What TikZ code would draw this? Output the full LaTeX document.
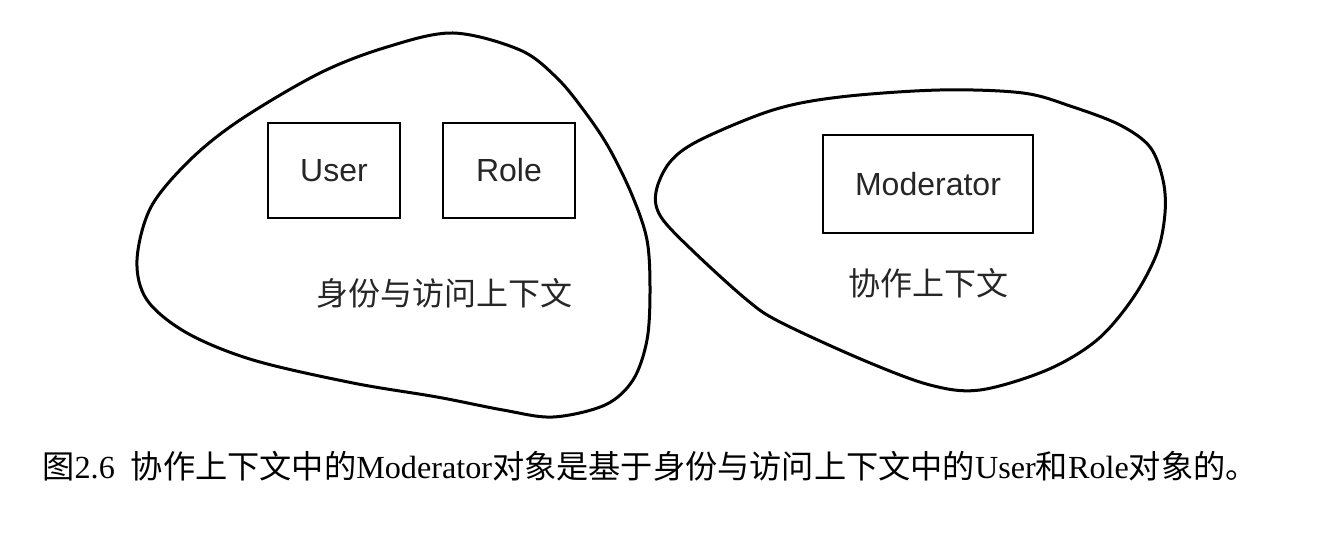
\documentclass[tikz,border=0pt]{standalone}
\usepackage{fontspec}
\setmainfont{Liberation Sans}
\newfontfamily\cjk{Noto Sans CJK SC}
\newfontfamily\capserif{Liberation Serif}
\begin{document}
\begin{tikzpicture}[x=0.5pt,y=-0.5pt,
  blob/.style={draw=black, line width=1.5pt},
  objbox/.style={draw=black, line width=1.4pt, inner sep=0pt, minimum height=47.5pt,
    font=\fontsize{16}{19}\selectfont, text=black!85},
  ctxlabel/.style={inner sep=0pt, font=\cjk\fontsize{16}{19}\selectfont, text=black!85},
  caption/.style={inner sep=0pt, anchor=west, font=\capserif\fontsize{16.1}{19}\selectfont}]
\useasboundingbox (0,0) rectangle (1322,534);
% left context
\draw[blob] plot[smooth cycle, tension=0.55] coordinates {
  (453,33) (520,50) (557,78) (585,112) (609,148) (632,195) (647,240) (650,290) (647,340)
  (633,380) (605,405) (553,417) (503,410) (437,397) (353,383) (253,360) (187,333)
  (147,300) (137,260) (151,207) (190,160) (240,120) (320,73) (387,47)};
% right context
\draw[blob] plot[smooth cycle, tension=0.55] coordinates {
  (656,192) (670,162) (700,140) (773,110) (840,97) (940,90) (1023,93) (1073,107)
  (1120,125) (1150,147) (1163,180) (1165,213) (1157,253) (1133,298) (1097,340)
  (1047,370) (980,390) (930,385) (863,360) (780,322) (747,300) (694,252) (661,217)};
\node[objbox, minimum width=66pt] (user) at (334,170.5) {User};
\node[objbox, minimum width=66pt] (role) at (509,170.5) {Role};
\node[objbox, minimum width=105pt, minimum height=49pt] (moderator) at (928,184) {Moderator};
\node[ctxlabel] (iam) at (444,293) {身份与访问上下文};
\node[ctxlabel] (collab) at (928,283) {协作上下文};
\node[caption] (cap) at (42,466) {{\cjk 图}2.6\hspace{8pt}{\cjk 协作上下文中的}Moderator{\cjk 对象是基于身份与访问上下文中的}User{\cjk 和}Role{\cjk 对象的。}};
\end{tikzpicture}
\end{document}
